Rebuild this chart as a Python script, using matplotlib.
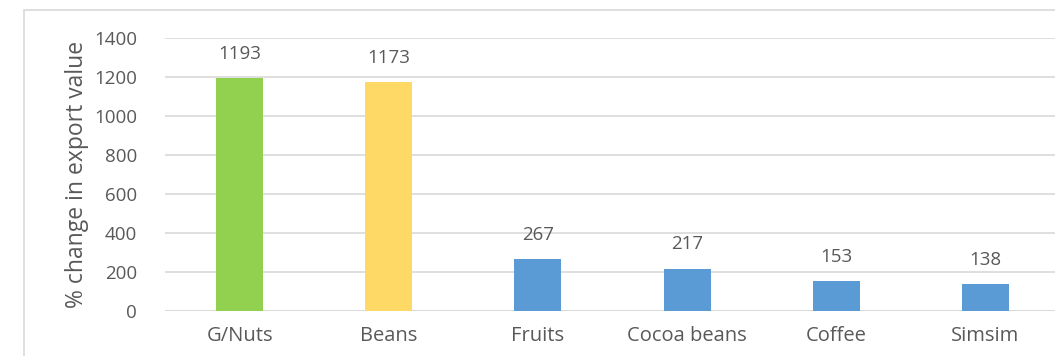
import matplotlib
matplotlib.use("Agg")
import matplotlib.pyplot as plt
from matplotlib.patches import Rectangle

categories = ["G/Nuts", "Beans", "Fruits", "Cocoa beans", "Coffee", "Simsim"]
values = [1193, 1173, 267, 217, 153, 138]
colors = ["#92d050", "#ffd966", "#5b9bd5", "#5b9bd5", "#5b9bd5", "#5b9bd5"]
yticks = [0, 200, 400, 600, 800, 1000, 1200, 1400]

plt.rcParams['font.family'] = ['Open Sans', 'DejaVu Sans']
txt = "#595959"
grid = "#d9d9d9"

W, H = 1055, 356
fig = plt.figure(figsize=(W/100, H/100), dpi=100)
fig.patch.set_facecolor("white")

# outer chart frame (cropped at right and bottom)
fig.patches.append(Rectangle((24/W, -0.1), 1.2, (H-10)/H + 0.1, transform=fig.transFigure,
                             fill=False, edgecolor=grid, linewidth=1.2))

ax = fig.add_axes([165/W, (H-311)/H, (1060-165)/W, (311-38)/H])
x = range(len(categories))
ax.bar(x, values, width=0.315, color=colors, zorder=3)
ax.set_xlim(-0.5, len(categories)-0.5)
ax.set_ylim(0, 1400)
ax.set_yticks(yticks)
ax.set_xticks(list(x))
ax.set_xticklabels(categories)
for s in ax.spines.values():
    s.set_visible(False)
ax.yaxis.grid(True, color=grid, linewidth=1.2, zorder=0)
ax.axhline(0, color=grid, linewidth=1.2, zorder=1)
ax.tick_params(axis='both', length=0, colors=txt, labelsize=13.5)
ax.tick_params(axis='x', labelsize=14.5)
ax.tick_params(axis='y', pad=20)
ax.tick_params(axis='x', pad=11)
for i, v in enumerate(values):
    ax.annotate(str(v), (i, v), xytext=(0, 11), textcoords='offset points',
                ha='center', va='bottom', color=txt, fontsize=13.5)
ax.set_ylabel("% change in export value", color=txt, fontsize=16.5, labelpad=4)

fig.savefig("out.png", dpi=100)
